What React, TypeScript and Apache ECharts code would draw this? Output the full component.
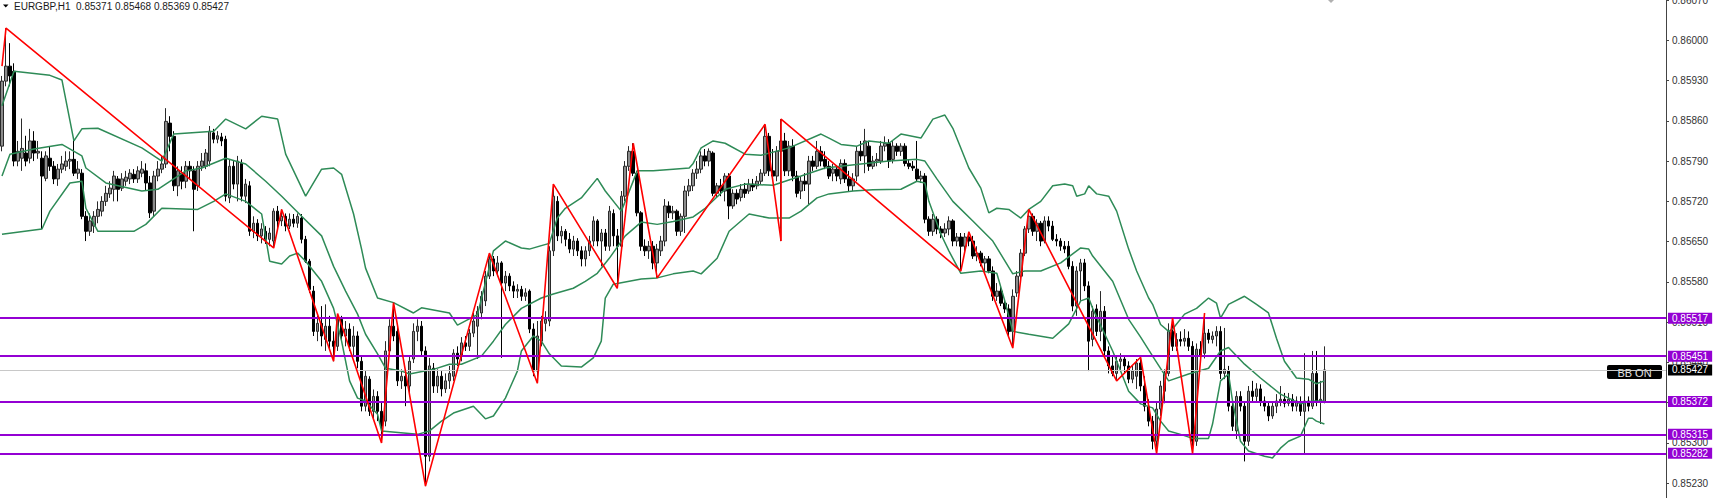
import React, { useEffect, useRef } from 'react';
import * as echarts from 'echarts';

// ---------- data ----------
const symbolName = 'EURGBP';
const timeframe = 'H1';
const slotCount = 417; // bar slots visible across the plot
const pointsPerPrice = 100000; // values below are in points (0.00001)

// [open, close, low, high] in points
const candles: number[][] = [
  [85816,85929,85807,85938],[85929,85955,85920,86021],[85955,85938,85920,85995],[85946,85790,85781,85960],[85790,85807,85781,85825],[85795,85812,85773,85864],[85804,85790,85781,85834],[85795,85825,85786,85846],[85825,85804,85790,85842],[85804,85807,85794,85825],
  [85795,85764,85672,85807],[85760,85799,85755,85807],[85795,85781,85773,85816],[85781,85759,85750,85790],[85759,85776,85747,85785],[85776,85785,85769,85799],[85781,85790,85773,85807],[85790,85793,85776,85807],[85793,85769,85764,85828],[85769,85776,85759,85790],
  [85769,85694,85689,85776],[85694,85668,85651,85703],[85668,85686,85660,85699],[85677,85694,85665,85703],[85694,85706,85682,85720],[85703,85720,85694,85729],[85720,85734,85712,85747],[85733,85743,85726,85755],[85741,85764,85720,85773],[85759,85741,85720,85764],
  [85743,85759,85738,85769],[85755,85762,85747,85773],[85759,85769,85750,85776],[85767,85759,85752,85776],[85759,85773,85752,85781],[85769,85776,85762,85790],[85773,85752,85738,85786],[85752,85700,85691,85764],[85703,85764,85694,85773],[85764,85776,85755,85790],
  [85776,85785,85769,85799],[85785,85859,85778,85882],[85856,85833,85807,85868],[85833,85747,85738,85842],[85747,85773,85729,85781],[85769,85755,85741,85781],[85755,85781,85743,85790],[85781,85773,85759,85790],[85773,85741,85668,85781],[85747,85781,85738,85790],
  [85781,85790,85773,85804],[85781,85804,85776,85811],[85790,85842,85781,85851],[85839,85828,85821,85846],[85828,85834,85821,85842],[85832,85825,85816,85839],[85828,85729,85720,85834],[85726,85781,85717,85793],[85781,85750,85741,85790],[85750,85790,85720,85799],
  [85786,85729,85720,85793],[85729,85750,85717,85759],[85747,85668,85660,85755],[85668,85682,85656,85694],[85682,85660,85651,85689],[85660,85672,85647,85682],[85668,85654,85646,85677],[85654,85665,85642,85674],[85651,85703,85639,85708],[85703,85686,85672,85712],
  [85686,85694,85677,85706],[85694,85677,85668,85699],[85677,85689,85672,85699],[85689,85682,85675,85698],[85682,85694,85674,85699],[85691,85654,85647,85698],[85654,85616,85613,85660],[85616,85567,85561,85620],[85564,85494,85486,85573],[85494,85508,85477,85521],
  [85508,85486,85468,85538],[85480,85503,85460,85541],[85503,85477,85463,85521],[85477,85468,85442,85494],[85468,85515,85460,85524],[85515,85486,85477,85521],[85486,85498,85468,85512],[85498,85468,85460,85508],[85468,85486,85451,85503],[85486,85442,85430,85494],
  [85442,85364,85355,85451],[85364,85416,85355,85425],[85411,85355,85347,85416],[85355,85381,85342,85393],[85381,85355,85338,85390],[85355,85329,85300,85373],[85338,85460,85329,85477],[85460,85503,85451,85515],[85503,85486,85477,85543],[85494,85408,85399,85508],
  [85408,85416,85394,85428],[85416,85399,85364,85428],[85399,85442,85387,85451],[85446,85494,85439,85508],[85494,85503,85477,85515],[85503,85460,85451,85512],[85460,85277,85225,85468],[85277,85434,85268,85448],[85430,85399,85387,85439],[85399,85416,85387,85428],
  [85416,85394,85381,85425],[85394,85408,85387,85421],[85408,85421,85394,85434],[85416,85456,85408,85463],[85456,85446,85434,85468],[85451,85474,85442,85484],[85474,85468,85460,85486],[85468,85491,85460,85498],[85491,85512,85484,85526],[85503,85529,85446,85538],
  [85526,85555,85515,85564],[85547,85590,85538,85599],[85590,85620,85585,85630],[85620,85599,85590,85625],[85599,85613,85590,85625],[85613,85578,85448,85616],[85578,85590,85564,85599],[85590,85573,85564,85595],[85573,85564,85552,85581],[85564,85567,85552,85576],
  [85567,85555,85547,85573],[85555,85561,85547,85569],[85564,85498,85491,85567],[85498,85425,85416,85508],[85425,85486,85404,85512],[85477,85512,85468,85521],[85508,85515,85494,85529],[85512,85634,85503,85642],[85634,85729,85625,85750],[85720,85660,85651,85729],
  [85660,85668,85647,85677],[85668,85654,85642,85672],[85654,85637,85630,85665],[85637,85651,85625,85660],[85651,85634,85625,85656],[85634,85620,85607,85642],[85620,85634,85607,85642],[85634,85651,85625,85660],[85651,85686,85642,85694],[85686,85651,85642,85689],
  [85651,85665,85607,85672],[85665,85642,85634,85672],[85642,85703,85634,85712],[85699,85660,85642,85706],[85660,85642,85569,85672],[85642,85729,85634,85738],[85729,85781,85720,85790],[85781,85807,85773,85816],[85807,85769,85764,85821],[85769,85700,85694,85773],
  [85700,85642,85634,85703],[85642,85634,85625,85654],[85634,85642,85620,85651],[85642,85613,85602,85651],[85613,85637,85587,85646],[85634,85651,85625,85660],[85651,85712,85642,85724],[85712,85700,85691,85720],[85700,85703,85689,85712],[85703,85668,85660,85706],
  [85668,85694,85660,85699],[85694,85738,85665,85747],[85738,85747,85729,85759],[85747,85769,85738,85776],[85769,85776,85759,85790],[85776,85799,85769,85807],[85799,85790,85781,85811],[85790,85807,85781,85812],[85804,85734,85729,85807],[85734,85747,85726,85752],
  [85747,85738,85729,85759],[85738,85764,85720,85769],[85764,85712,85689,85769],[85712,85734,85707,85741],[85734,85724,85715,85741],[85727,85741,85720,85750],[85741,85734,85726,85752],[85738,85750,85733,85759],[85750,85745,85738,85759],[85747,85755,85741,85764],
  [85755,85769,85750,85776],[85769,85833,85764,85854],[85833,85773,85764,85839],[85773,85764,85759,85811],[85764,85807,85755,85816],[85807,85825,85651,85863],[85825,85773,85764,85839],[85773,85816,85764,85825],[85816,85764,85755,85828],[85764,85734,85727,85773],
  [85738,85755,85724,85764],[85755,85750,85738,85769],[85750,85790,85715,85799],[85790,85781,85773,85799],[85781,85807,85776,85825],[85807,85790,85781,85816],[85793,85781,85776,85807],[85781,85764,85759,85790],[85769,85776,85755,85785],[85776,85764,85755,85781],
  [85759,85786,85750,85793],[85786,85759,85752,85793],[85759,85747,85738,85773],[85747,85759,85738,85769],[85764,85807,85755,85816],[85807,85799,85790,85825],[85799,85825,85769,85846],[85816,85781,85773,85825],[85781,85790,85776,85799],[85790,85793,85781,85804],
  [85790,85816,85785,85825],[85816,85821,85807,85833],[85821,85790,85778,85828],[85793,85816,85786,85825],[85816,85807,85799,85821],[85807,85816,85799,85821],[85816,85786,85781,85821],[85786,85781,85776,85793],[85781,85778,85773,85790],[85776,85759,85755,85825],
  [85759,85764,85752,85773],[85764,85689,85682,85769],[85689,85668,85660,85694],[85668,85689,85660,85698],[85689,85672,85663,85694],[85672,85665,85656,85677],[85665,85672,85658,85682],[85672,85686,85661,85694],[85686,85651,85642,85689],[85651,85658,85642,85665],
  [85658,85642,85599,85665],[85642,85658,85634,85665],[85658,85651,85642,85667],[85651,85625,85620,85660],[85625,85630,85616,85642],[85630,85613,85607,85634],[85613,85620,85599,85625],[85620,85599,85595,85625],[85599,85555,85547,85607],[85555,85564,85547,85578],
  [85564,85543,85538,85573],[85543,85533,85526,85550],[85533,85494,85486,85541],[85494,85555,85465,85567],[85561,85590,85554,85599],[85590,85630,85585,85637],[85630,85672,85625,85677],[85672,85694,85665,85706],[85694,85668,85660,85699],[85668,85682,85651,85689],
  [85682,85651,85642,85686],[85651,85686,85647,85694],[85686,85677,85668,85694],[85677,85654,85651,85686],[85654,85651,85642,85663],[85651,85642,85634,85656],[85642,85637,85630,85651],[85642,85607,85602,85651],[85607,85538,85529,85616],[85538,85599,85521,85607],
  [85599,85613,85547,85620],[85613,85573,85564,85620],[85573,85477,85425,85581],[85480,85529,85468,85538],[85533,85494,85486,85541],[85494,85529,85477,85564],[85529,85460,85451,85538],[85460,85434,85421,85468],[85434,85421,85416,85451],[85421,85442,85408,85451],
  [85442,85446,85425,85456],[85446,85434,85421,85451],[85434,85411,85404,85442],[85411,85425,85404,85434],[85416,85439,85394,85446],[85439,85399,85390,85449],[85399,85364,85355,85416],[85364,85338,85329,85376],[85338,85303,85289,85347],[85303,85359,85282,85373],
  [85359,85399,85347,85408],[85390,85421,85369,85428],[85421,85494,85416,85508],[85494,85468,85460,85517],[85468,85480,85460,85491],[85480,85477,85468,85494],[85477,85482,85468,85498],[85482,85468,85460,85494],[85468,85303,85282,85477],[85303,85463,85295,85473],
  [85463,85451,85439,85477],[85456,85491,85447,85526],[85491,85480,85473,85498],[85480,85486,85473,85494],[85486,85494,85468,85503],[85494,85421,85411,85503],[85421,85428,85411,85500],[85425,85364,85355,85434],[85364,85329,85321,85373],[85321,85381,85307,85390],
  [85381,85364,85355,85390],[85364,85303,85268,85373],[85303,85390,85295,85399],[85390,85381,85373,85408],[85381,85394,85373,85404],[85394,85373,85364,85402],[85373,85364,85355,85381],[85364,85347,85338,85373],[85347,85364,85342,85373],[85364,85373,85352,85385],
  [85373,85376,85364,85399],[85376,85369,85362,85387],[85369,85376,85364,85387],[85376,85364,85355,85385],[85364,85373,85355,85381],[85369,85355,85347,85381],[85355,85373,85281,85456],[85373,85364,85355,85381],[85364,85421,85359,85460],[85421,85373,85364,85460],
  [85373,85376,85333,85408],[85371,85427,85369,85468],
];

// Bollinger bands: [bar index, points]
const bbUpper: number[][] = [
  [0,85886],[3,85946],[12,85939],[15,85931],[18,85825],[20,85846],[24,85847],[35,85813],[40,85790],[43,85837],[53,85842],[56,85863],[61,85846],[65,85868],[69,85863],[71,85802],[76,85729],[80,85776],[83,85778],[85,85767],[88,85698],[90,85637],[91,85604],[94,85552],[98,85544],[103,85526],[105,85535],[112,85526],[114,85505],[119,85523],[123,85634],[126,85651],[130,85639],[132,85637],[137,85647],[139,85691],[141,85708],[145,85726],[149,85760],[151,85738],[155,85703],[156,85720],[159,85773],[163,85773],[168,85776],[172,85778],[173,85786],[175,85813],[178,85825],[181,85821],[186,85802],[190,85800],[197,85813],[205,85837],[207,85830],[210,85819],[214,85816],[217,85825],[222,85821],[225,85837],[230,85830],[233,85863],[236,85870],[238,85847],[242,85778],[245,85743],[247,85700],[249,85708],[252,85706],[255,85691],[257,85706],[260,85720],[263,85747],[266,85750],[268,85747],[269,85729],[271,85733],[272,85747],[274,85733],[277,85729],[279,85703],[282,85637],[284,85599],[287,85552],[288,85541],[290,85506],[292,85494],[293,85498],[296,85524],[299,85534],[302,85552],[304,85543],[305,85517],[307,85541],[311,85555],[314,85541],[317,85526],[319,85482],[321,85442],[324,85413],[327,85411],[329,85403],[331,85408],
];
const bbMiddle: number[][] = [
  [0,85764],[2,85802],[8,85811],[15,85819],[20,85799],[21,85778],[26,85752],[35,85738],[39,85741],[46,85773],[50,85778],[56,85795],[61,85785],[66,85755],[70,85729],[75,85694],[80,85660],[83,85607],[86,85564],[89,85524],[91,85489],[94,85455],[96,85430],[100,85425],[102,85420],[108,85428],[112,85437],[115,85437],[120,85451],[123,85477],[126,85506],[130,85534],[135,85552],[138,85559],[143,85569],[146,85581],[149,85595],[152,85621],[156,85660],[160,85684],[164,85680],[168,85685],[173,85693],[176,85708],[181,85741],[186,85750],[193,85748],[200,85764],[206,85778],[215,85785],[222,85790],[229,85793],[231,85790],[234,85759],[238,85720],[243,85686],[248,85651],[253,85594],[256,85599],[260,85599],[265,85613],[270,85639],[272,85637],[273,85625],[278,85581],[282,85515],[285,85484],[288,85451],[292,85408],[297,85420],[302,85430],[305,85460],[307,85466],[311,85437],[315,85413],[320,85385],[325,85368],[328,85373],[331,85373],
];
const bbLower: number[][] = [
  [0,85663],[10,85672],[12,85703],[17,85752],[20,85755],[21,85708],[24,85668],[33,85668],[36,85680],[40,85708],[49,85706],[53,85720],[56,85733],[61,85720],[65,85698],[67,85616],[70,85611],[72,85625],[74,85630],[76,85616],[80,85581],[83,85534],[85,85477],[87,85408],[89,85378],[91,85373],[94,85350],[95,85321],[104,85315],[107,85321],[110,85338],[113,85352],[118,85364],[121,85342],[123,85347],[126,85378],[129,85425],[130,85460],[133,85486],[135,85477],[137,85455],[140,85434],[145,85432],[148,85448],[150,85477],[151,85552],[153,85576],[160,85585],[164,85587],[168,85594],[173,85599],[175,85594],[179,85621],[182,85668],[187,85698],[192,85691],[197,85691],[200,85703],[204,85726],[207,85733],[213,85738],[218,85740],[225,85741],[229,85755],[231,85752],[232,85720],[235,85663],[237,85634],[240,85595],[245,85599],[249,85595],[251,85547],[253,85494],[257,85489],[263,85482],[267,85507],[270,85547],[272,85552],[273,85534],[278,85460],[282,85390],[285,85368],[288,85361],[290,85338],[292,85321],[295,85315],[298,85308],[302,85308],[303,85333],[305,85408],[307,85420],[308,85373],[310,85303],[312,85286],[316,85277],[318,85274],[320,85291],[322,85303],[325,85312],[327,85343],[328,85343],[329,85338],[331,85333],
];

// ZigZag pivots: [bar index, points]
const zigzag: number[][] = [
  [0,85955],[1,86021],[68,85639],[70,85706],[83,85442],[84,85525],[95,85300],[98,85544],[106,85225],[122,85630],[134,85404],[138,85750],[154,85569],[158,85821],[164,85587],[191,85854],[195,85651],[195,85863],[240,85599],[242,85667],[253,85465],[257,85706],[279,85408],[285,85449],[289,85282],[293,85517],[298,85282],[301,85526],
];

const levelPrices = [0.85517, 0.85451, 0.85372, 0.85315, 0.85282];
const currentPrice = 0.85427;
const yTickValues = [0.8607, 0.86, 0.8593, 0.8586, 0.8579, 0.8572, 0.8565, 0.8558, 0.8551, 0.8544, 0.8537, 0.853, 0.8523];
const yMin = 0.852044;
const yMax = 0.8607;
const indicatorLabel = 'BB ON';

// ---------- helpers ----------
const px = (p: number) => p / pointsPerPrice;
const fmt = (v: number) => v.toFixed(5);
const toLine = (arr: number[][]) => arr.map((d) => [d[0], px(d[1])]);

const FONT = 'Liberation Sans';
const OFF = 10; // canvas extends 10px above the visible page so the top tick label is cut like the original

export default function App() {
  const ref = useRef<HTMLDivElement>(null);

  useEffect(() => {
    if (!ref.current) return;
    const chart = echarts.init(ref.current, undefined, { renderer: 'svg' });

    const categories = Array.from({ length: slotCount }, (_, i) => String(i));
    const ohlc = candles.map((c) => [px(c[0]), px(c[1]), px(c[2]), px(c[3])]);
    const last = candles[candles.length - 1];
    const title = `${symbolName},${timeframe}  ${fmt(px(last[0]))} ${fmt(px(last[3]))} ${fmt(px(last[2]))} ${fmt(px(last[1]))}`;

    const purpleLabel = {
      show: true,
      position: 'end',
      distance: 2,
      color: '#ffffff',
      backgroundColor: '#9400d3',
      padding: [1, 4, 0, 4],
      fontSize: 10,
      lineHeight: 10,
      fontFamily: FONT,
      formatter: (p: any) => fmt(Number(p.value)),
    };

    const bandStyle = { color: '#2e8b57', width: 1.5 };

    chart.setOption({
      animation: false,
      backgroundColor: '#ffffff',
      grid: { left: 0, right: 51, top: OFF, bottom: 0, containLabel: false },
      xAxis: [
        { type: 'category', data: categories, show: false, boundaryGap: true },
        { type: 'value', min: -0.5, max: slotCount - 0.5, show: false },
      ],
      yAxis: {
        type: 'value',
        position: 'right',
        min: yMin,
        max: yMax,
        scale: true,
        splitLine: { show: false },
        axisLine: { show: true, onZero: false, lineStyle: { color: '#444', width: 1 } },
        axisTick: { show: true, length: 3, lineStyle: { color: '#444' }, customValues: yTickValues },
        axisLabel: {
          show: true,
          margin: 6,
          fontSize: 10,
          fontFamily: FONT,
          color: '#333',
          customValues: yTickValues,
          verticalAlignMaxLabel: 'middle',
          verticalAlignMinLabel: 'middle',
          formatter: (v: number) => fmt(v),
        },
      },
      series: [
        {
          name: 'price line',
          type: 'line',
          xAxisIndex: 1,
          data: [],
          z: 1,
          markLine: {
            silent: true,
            symbol: ['none', 'none'],
            precision: 5,
            data: [
              {
                yAxis: currentPrice,
                lineStyle: { color: '#c8c8c8', width: 1, type: 'solid' },
                label: { ...purpleLabel, backgroundColor: '#000000' },
              },
            ],
          },
        },
        {
          name: 'EURGBP',
          type: 'candlestick',
          xAxisIndex: 0,
          data: ohlc,
          barWidth: 3,
          z: 2,
          itemStyle: {
            color: '#8c8c8c',
            color0: '#000000',
            borderColor: '#2a2a2a',
            borderColor0: '#000000',
            borderWidth: 1,
          },
        },
        {
          name: 'levels',
          type: 'line',
          xAxisIndex: 1,
          data: [],
          z: 3,
          markLine: {
            silent: true,
            symbol: ['none', 'none'],
            precision: 5,
            data: levelPrices.map((v) => ({
              yAxis: v,
              lineStyle: { color: '#9400d3', width: 2, type: 'solid' },
              label: purpleLabel,
            })),
          },
        },
        {
          name: 'BB upper', type: 'line', xAxisIndex: 1, data: toLine(bbUpper),
          showSymbol: false, symbol: 'none', lineStyle: bandStyle, z: 4,
        },
        {
          name: 'BB middle', type: 'line', xAxisIndex: 1, data: toLine(bbMiddle),
          showSymbol: false, symbol: 'none', lineStyle: bandStyle, z: 4,
        },
        {
          name: 'BB lower', type: 'line', xAxisIndex: 1, data: toLine(bbLower),
          showSymbol: false, symbol: 'none', lineStyle: bandStyle, z: 4,
        },
        {
          name: 'ZigZag', type: 'line', xAxisIndex: 1, data: toLine(zigzag),
          showSymbol: false, symbol: 'none', lineStyle: { color: '#ff0000', width: 1.6 }, z: 5,
        },
      ],
      graphic: [
        { type: 'polygon', shape: { points: [[3, OFF + 4.5], [8.5, OFF + 4.5], [5.75, OFF + 7.5]] }, style: { fill: '#000' } },
        {
          type: 'text', x: 14, y: OFF + 6.5,
          style: { text: title, fontSize: 10, fontFamily: FONT, fill: '#1a1a1a', verticalAlign: 'middle' },
        },
        { type: 'polygon', shape: { points: [[1328, OFF], [1334, OFF], [1331, OFF + 3]] }, style: { fill: '#b0b0b0' } },
        {
          type: 'group',
          children: [
            { type: 'rect', shape: { x: 1607, y: OFF + 365, width: 55, height: 14, r: 2 }, style: { fill: '#000' } },
            {
              type: 'text', x: 1634.5, y: OFF + 372.5,
              style: { text: indicatorLabel, fontSize: 11, fontFamily: FONT, fill: '#e6e6e6', align: 'center', verticalAlign: 'middle' },
            },
          ],
        },
      ],
    });

    return () => chart.dispose();
  }, []);

  return (
    <div
      ref={ref}
      style={{ position: 'fixed', left: 0, top: -OFF, width: 1717, height: 498 + OFF, background: '#fff' }}
    />
  );
}
